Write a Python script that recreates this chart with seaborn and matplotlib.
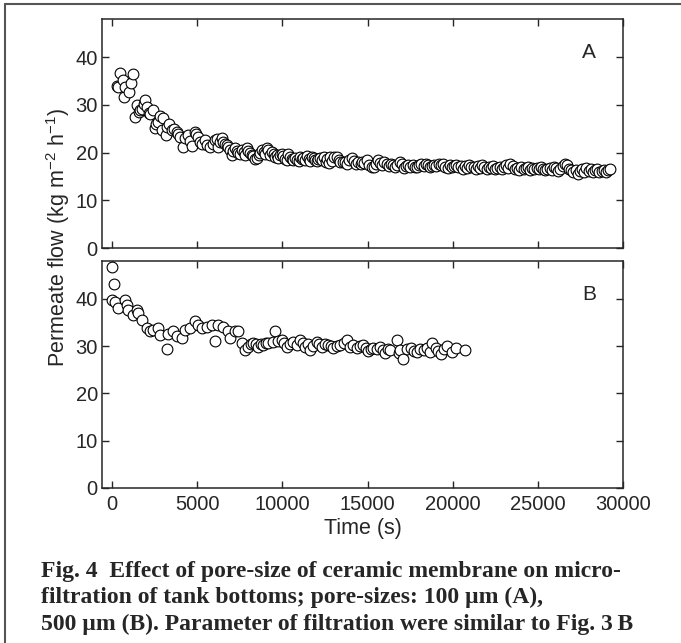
import matplotlib
matplotlib.use("Agg")
import matplotlib.pyplot as plt
from matplotlib.lines import Line2D
import seaborn as sns

# panel A: 100 um membrane
time_a = [300, 370, 470, 630, 700, 760, 1020, 1100, 1250,
          1350, 1480, 1565, 1650, 1740, 1850, 1940, 2040, 2150, 2250, 2390,
          2525, 2600, 2720, 2820, 2920, 3010, 3170, 3210, 3350, 3500, 3650,
          3800, 3900, 3990, 4190, 4300, 4480, 4600, 4680, 4870, 4950, 5070,
          5170, 5300, 5450, 5560, 5755, 5900, 6050, 6150, 6245, 6350, 6440,
          6540, 6635, 6730, 6830, 6930, 7030, 7120, 7220, 7320, 7420, 7520,
          7620, 7720, 7810, 7910, 8000, 8100, 8200, 8300, 8400, 8500, 8600,
          8700, 8800, 8900, 9000, 9080, 9180, 9280, 9380, 9480, 9570, 9670,
          9770, 9870, 9965, 10060, 10160, 10260, 10360, 10460, 10560, 10650,
          10750, 10850, 10950, 11050, 11150, 11240, 11340, 11440, 11540,
          11640, 11730, 11830, 11930, 12030, 12120, 12220, 12320, 12420,
          12550, 12650, 12750, 12810, 12900, 13060, 13200, 13300, 13400,
          13570, 13690, 13800, 13900, 14080, 14200, 14350, 14450, 14590,
          14700, 14820, 14975, 15100, 15250, 15357, 15480, 15612, 15750,
          15850, 15995, 16120, 16250, 16378, 16500, 16630, 16750, 16888,
          17000, 17130, 17260, 17398, 17520, 17650, 17780, 17908, 18030,
          18160, 18290, 18418, 18550, 18680, 18800, 18929, 19050, 19180,
          19300, 19439, 19570, 19700, 19830, 19960, 20080, 20204, 20330,
          20460, 20590, 20714, 20840, 20970, 21100, 21224, 21350, 21480,
          21610, 21735, 21860, 21990, 22120, 22245, 22370, 22500, 22630,
          22755, 22880, 23010, 23140, 23270, 23393, 23520, 23650, 23776,
          23900, 24030, 24160, 24286, 24410, 24540, 24670, 24800, 24923,
          25050, 25180, 25310, 25434, 25560, 25690, 25820, 25950, 26071,
          26200, 26330, 26460, 26582, 26710, 26840, 26964, 27090, 27220,
          27347, 27470, 27600, 27730, 27857, 27980, 28110, 28240, 28367,
          28500, 28620, 28750, 28880, 29000, 29130, 29260]
flow_a = [34.0, 33.8, 36.6, 35.3, 31.7, 33.8, 32.7, 34.6, 36.4,
          27.5, 29.9, 28.5, 29.0, 29.2, 30.2, 31.0, 29.6, 28.4, 28.0, 29.0,
          25.1, 26.0, 26.5, 27.6, 24.7, 27.2, 23.7, 25.4, 25.9, 24.7, 24.9,
          24.4, 23.8, 23.3, 21.2, 23.0, 23.7, 22.5, 21.4, 24.4, 23.8, 23.3,
          22.3, 21.9, 22.6, 21.5, 21.2, 21.8, 22.6, 22.9, 21.2, 22.3, 23.0,
          22.2, 21.9, 21.6, 21.2, 20.6, 19.5, 20.3, 20.9, 20.4, 20.0, 19.8,
          20.5, 20.2, 19.6, 20.9, 20.4, 19.9, 19.5, 19.2, 18.6, 18.8, 19.6,
          20.0, 20.6, 20.1, 19.7, 20.9, 20.5, 19.4, 20.2, 19.8, 19.1, 19.5,
          18.9, 19.4, 19.8, 19.3, 18.7, 18.5, 19.8, 19.0, 18.6, 18.4,
          18.8, 18.5, 18.3, 19.1, 18.7, 18.8, 18.4, 19.2, 18.6,
          18.3, 19.1, 18.9, 18.5, 18.2, 18.7, 18.8, 18.4, 19.0,
          18.1, 18.6, 17.9, 19.0, 18.3, 19.1, 19.1, 18.4, 18.0,
          18.1, 18.1, 17.7, 18.5, 18.8, 18.2, 17.6, 18.0, 17.7,
          18.1, 17.9, 18.4, 17.4, 17.0, 17.0, 17.6, 18.4, 17.9,
          17.3, 18.1, 17.6, 17.2, 17.7, 17.4, 16.9, 17.3, 18.1,
          17.6, 16.8, 17.1, 17.4, 17.0, 17.5, 16.9, 17.0, 17.3,
          17.6, 17.2, 17.7, 17.4, 16.9, 17.2, 17.5, 17.1, 17.6,
          17.3, 17.7, 17.0, 16.8, 17.3, 16.9, 17.2, 17.5, 16.9,
          17.1, 16.6, 17.2, 16.8, 17.3, 16.9, 17.0, 16.6, 17.1,
          16.7, 17.4, 16.9, 16.5, 16.9, 16.7, 17.1, 16.6, 16.8,
          17.0, 16.5, 16.9, 17.3, 16.8, 17.7, 17.1, 16.6, 16.7,
          16.4, 16.9, 16.6, 16.7, 16.9, 16.4, 16.8, 16.5, 16.7,
          16.5, 16.9, 16.6, 16.3, 16.6, 16.8, 16.4, 16.9, 16.7,
          16.2, 16.6, 17.2, 17.7, 17.3, 16.6, 16.3, 16.0, 16.4,
          15.6, 16.1, 16.6, 16.0, 16.7, 16.1, 16.5, 15.9, 16.3,
          16.6, 16.0, 16.2, 16.4, 15.9, 16.3, 16.5]

# panel B: 500 um membrane
time_b = [-20, 117, 0, 176, 372, 763, 860, 960, 1252, 1448, 1546, 1742,
          2036, 2231, 2427, 2720, 2818, 3210, 3308, 3602, 3797, 4090, 4286,
          4580, 4873, 5069, 5266, 5559, 5853, 6048, 6245, 6538, 6831, 6929,
          7223, 7418, 7614, 7810, 8005, 8150, 8299, 8450, 8593, 8740, 8886,
          9030, 9180, 9475, 9572, 9720, 9965, 10110, 10258, 10450, 10650,
          10850, 11040, 11190, 11333, 11480, 11627, 11820, 12020, 12160,
          12313, 12500, 12705, 12850, 12999, 13190, 13390, 13600, 13783,
          13979, 14170, 14370, 14560, 14762, 14900, 15056, 15200, 15350,
          15550, 15742, 15890, 16035, 16180, 16329, 16722, 16820, 16888,
          17092, 17300, 17526, 17700, 17908, 18100, 18291, 18500, 18673,
          18801, 19000, 19150, 19311, 19500, 19694, 19949, 20204, 20714]
flow_b = [46.7, 43.1, 39.8, 39.4, 38.0, 39.8, 38.7, 37.7, 36.6, 37.7, 37.0,
          35.6, 33.8, 33.1, 33.4, 33.8, 32.4, 29.4, 32.6, 33.1, 32.2, 31.7,
          33.4, 33.8, 35.4, 34.5, 33.8, 34.1, 34.5, 31.0, 34.5, 34.1, 33.1,
          31.7, 33.1, 33.1, 30.6, 29.2, 29.9, 30.4, 30.6, 30.5, 29.9, 30.4,
          30.3, 30.7, 30.6, 30.8, 33.1, 31.0, 31.2, 30.6, 29.9, 30.4, 30.8,
          30.3, 31.2, 30.6, 29.9, 30.4, 29.2, 30.1, 30.8, 30.4, 29.9, 30.5,
          30.3, 30.0, 29.6, 30.1, 30.3, 30.7, 31.2, 29.9, 30.2, 29.6, 30.0,
          30.3, 29.7, 28.9, 29.4, 29.6, 29.3, 29.9, 29.2, 28.5, 29.4, 29.2,
          31.2, 28.5, 29.1, 27.2, 29.4, 29.5, 29.0, 28.8, 29.3, 29.1, 29.5,
          28.8, 30.7, 29.6, 29.0, 28.4, 29.3, 30.0, 28.8, 29.7, 29.1]

y_ticks = [0, 10, 20, 30, 40]
x_ticks = [0, 5000, 10000, 15000, 20000, 25000, 30000]

sns.set_style("ticks")
plt.rcParams['font.family'] = ['Liberation Sans', 'DejaVu Sans']
plt.rcParams['mathtext.default'] = 'regular'
plt.rcParams['axes.linewidth'] = 1.1

fig = plt.figure(figsize=(6.81, 6.43), dpi=100)
ax_a = fig.add_axes([0.1498, 0.6143, 0.765, 0.3561])
ax_b = fig.add_axes([0.1498, 0.2411, 0.765, 0.3530])

for ax, t, f, letter in [(ax_a, time_a, flow_a, "A"), (ax_b, time_b, flow_b, "B")]:
    sns.scatterplot(x=t, y=f, ax=ax, marker="o", s=60, color="white",
                    edgecolor="black", linewidth=0.8, zorder=3)
    ax.set_xlim(-590, 30000)
    ax.set_ylim(0, 48)
    ax.set_xticks(x_ticks)
    ax.set_yticks(y_ticks)
    ax.tick_params(direction="in", top=True, right=True, length=5, width=1,
                   labelsize=14.5, pad=3)
    ax.tick_params(axis="x", pad=5)
    ax.text(28000, 41, letter, fontsize=15, ha="center", va="center")

ax_a.tick_params(labelbottom=False)
ax_b.set_xlabel("Time (s)", fontsize=15.5, labelpad=3)

fig.text(58 / 681, 1 - 238 / 643, "Permeate flow (kg m$^{-2}$ h$^{-1}$)",
         rotation=90, fontsize=15.5, ha="center", va="center")

caption = ["Fig. 4  Effect of pore-size of ceramic membrane on micro-",
           "filtration of tank bottoms; pore-sizes: 100 µm (A),",
           "500 µm (B). Parameter of filtration were similar to Fig. 3\u2009B"]
for i, line in enumerate(caption):
    fig.text(41 / 681, 1 - (571 + 26.5 * i) / 643, line, fontsize=17,
             fontweight="bold", family=['Liberation Serif', 'DejaVu Serif'],
             ha="left", va="center")

# page frame (top and left edges)
fig.add_artist(Line2D([5 / 681, 1], [1 - 4 / 643, 1 - 4 / 643],
                      transform=fig.transFigure, color="#555555", lw=1.5))
fig.add_artist(Line2D([5 / 681, 5 / 681], [0, 1 - 4 / 643],
                      transform=fig.transFigure, color="#555555", lw=1.5))

fig.savefig("out.png", dpi=100)
